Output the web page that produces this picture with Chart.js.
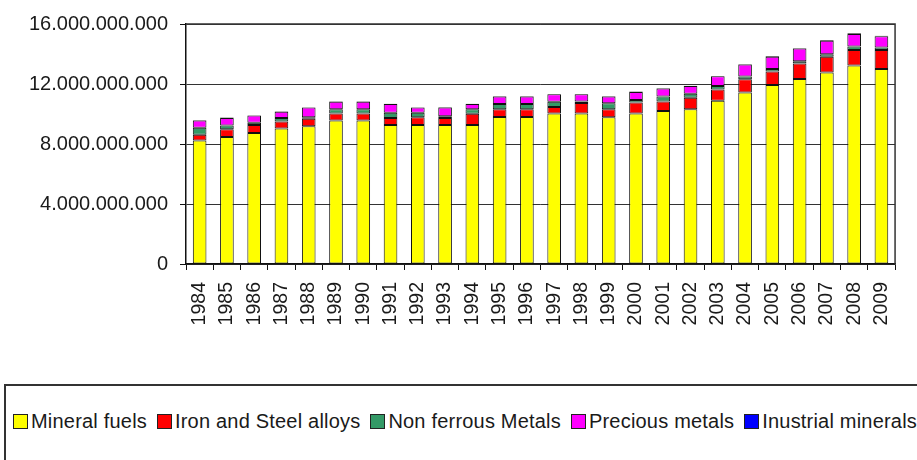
<!DOCTYPE html>
<html>
<head>
<meta charset="utf-8">
<script src="https://cdn.jsdelivr.net/npm/chart.js@4/dist/chart.umd.min.js"></script>
<style>
  html, body { margin: 0; padding: 0; background: #fff; overflow: hidden; }
  #wrap { position: relative; width: 917px; height: 460px; overflow: hidden; }
  #plot { position: absolute; left: 0; top: 0; width: 917px; height: 330px; }
  #legend {
    position: absolute; left: 4px; top: 384px; width: 1100px; height: 120px;
    border: 2px solid #333; box-sizing: border-box; background: #fff;
  }
  #legend .row {
    position: absolute; left: 7px; top: 24px; display: flex; align-items: center;
    white-space: nowrap; font: 20px "Liberation Sans", Arial, sans-serif;
    letter-spacing: 0.2px; color: #1a1a1a;
  }
  #legend .box {
    display: inline-block; width: 13px; height: 13px; border: 1px solid #222;
    margin-right: 3px; flex: none;
  }
  #legend .txt { margin-right: 10px; }
</style>
</head>
<body>
<div id="wrap">
  <div id="plot"><canvas id="c"></canvas></div>
  <div id="legend"><div class="row" id="legendRow"></div></div>
</div>
<script>
// Years on the category axis
const years = ['1984','1985','1986','1987','1988','1989','1990','1991','1992','1993','1994','1995','1996',
               '1997','1998','1999','2000','2001','2002','2003','2004','2005','2006','2007','2008','2009'];

// Series names
const seriesNames = ['Mineral fuels', 'Iron and Steel alloys', 'Non ferrous Metals', 'Precious metals', 'Inustrial minerals'];

// Values per year (stacked)
const mineralFuels = [8230000000, 8460000000, 8740000000, 9040000000, 9180000000, 9570000000, 9570000000,
                      9270000000, 9270000000, 9270000000, 9270000000, 9800000000, 9800000000, 10030000000,
                      10030000000, 9780000000, 10030000000, 10200000000, 10310000000, 10890000000,
                      11430000000, 11930000000, 12340000000, 12770000000, 13230000000, 13000000000];
const ironSteel = [390000000, 530000000, 530000000, 460000000, 510000000, 460000000, 460000000,
                   460000000, 510000000, 460000000, 740000000, 510000000, 510000000, 440000000,
                   700000000, 530000000, 740000000, 640000000, 770000000, 740000000,
                   890000000, 910000000, 1020000000, 1050000000, 1040000000, 1270000000];
const nonFerrous = [470000000, 240000000, 150000000, 230000000, 90000000, 280000000, 280000000,
                    350000000, 300000000, 120000000, 300000000, 350000000, 350000000, 350000000,
                    110000000, 400000000, 170000000, 330000000, 270000000, 230000000,
                    180000000, 160000000, 160000000, 160000000, 230000000, 160000000];
const preciousMetals = [480000000, 500000000, 480000000, 420000000, 650000000, 510000000, 510000000,
                        580000000, 350000000, 580000000, 350000000, 510000000, 510000000, 490000000,
                        470000000, 460000000, 530000000, 530000000, 510000000, 650000000,
                        800000000, 820000000, 840000000, 910000000, 840000000, 750000000];
const industrialMinerals = [30000000, 30000000, 20000000, 30000000, 20000000, 30000000, 30000000,
                            30000000, 20000000, 30000000, 30000000, 30000000, 30000000, 30000000,
                            30000000, 30000000, 30000000, 30000000, 30000000, 30000000,
                            40000000, 40000000, 40000000, 40000000, 40000000, 40000000];

// Value axis
const yMin = 0, yMax = 16000000000, yStep = 4000000000;

const seriesColors = ['#FFFF00', '#FF0000', '#339966', '#FF00FF', '#0000FF'];
const seriesValues = [mineralFuels, ironSteel, nonFerrous, preciousMetals, industrialMinerals];

const FONT = '"Liberation Sans", Arial, sans-serif';

function dotted(v) {
  return String(Math.round(v)).replace(/\B(?=(\d{3})+(?!\d))/g, '.');
}

// Plot frame: top and right edges of the plot area
const framePlugin = {
  id: 'frame',
  afterDraw(chart) {
    const { ctx, chartArea: a } = chart;
    ctx.save();
    ctx.strokeStyle = '#333';
    ctx.lineWidth = 1.5;
    ctx.beginPath();
    ctx.moveTo(a.left, a.top);
    ctx.lineTo(a.right, a.top);
    ctx.lineTo(a.right, a.bottom);
    ctx.stroke();
    ctx.restore();
  }
};

const chart = new Chart(document.getElementById('c'), {
  type: 'bar',
  data: {
    labels: years,
    datasets: seriesNames.map((name, i) => ({
      label: name,
      data: seriesValues[i],
      backgroundColor: seriesColors[i],
      borderColor: '#111',
      borderWidth: 1,
      borderSkipped: false,
      categoryPercentage: 1.0,
      barPercentage: 0.5
    }))
  },
  options: {
    responsive: true,
    maintainAspectRatio: false,
    animation: false,
    layout: { padding: { top: 22, right: 9, left: 0, bottom: 0 } },
    plugins: { legend: { display: false }, tooltip: { enabled: false } },
    scales: {
      x: {
        stacked: true,
        offset: true,
        grid: { display: true, drawOnChartArea: false, drawTicks: true, tickLength: 6, color: '#111', offset: true },
        border: { display: true, color: '#111', width: 1.5 },
        ticks: {
          color: '#1a1a1a', font: { family: FONT, size: 19.5 },
          minRotation: 90, maxRotation: 90, autoSkip: false, padding: 12
        },
        afterFit(scale) { scale.height = 66; }
      },
      y: {
        stacked: true,
        min: yMin, max: yMax,
        grid: { color: '#333', lineWidth: 1, drawTicks: true, tickLength: 6, tickColor: '#111' },
        border: { display: true, color: '#111', width: 1.5 },
        ticks: {
          stepSize: yStep, color: '#1a1a1a', font: { family: FONT, size: 20 }, padding: 12,
          callback: (v) => dotted(v)
        },
        afterFit(scale) { scale.width = 186; }
      }
    }
  },
  plugins: [framePlugin]
});

// Legend row built from the chart's datasets
const row = document.getElementById('legendRow');
chart.data.datasets.forEach(ds => {
  const box = document.createElement('span');
  box.className = 'box';
  box.style.background = ds.backgroundColor;
  const txt = document.createElement('span');
  txt.className = 'txt';
  txt.textContent = ds.label;
  row.appendChild(box);
  row.appendChild(txt);
});
</script>
</body>
</html>
